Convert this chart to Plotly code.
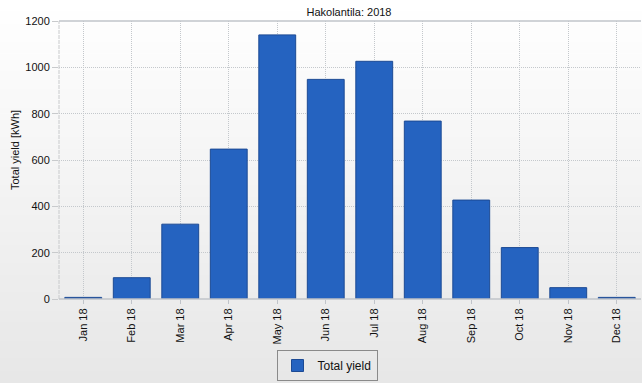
import plotly.graph_objects as go

months = ["Jan 18", "Feb 18", "Mar 18", "Apr 18", "May 18", "Jun 18",
          "Jul 18", "Aug 18", "Sep 18", "Oct 18", "Nov 18", "Dec 18"]
total_yield = [7, 92, 323, 647, 1140, 948, 1026, 768, 427, 222, 49, 7]
y_ticks = [0, 200, 400, 600, 800, 1000, 1200]
y_title = "Total yield [kWh]"

W, H = 642, 383
L, R, T, B = 59, 1, 21, 84
pw, ph = W - L - R, H - T - B

fig = go.Figure()
fig.add_trace(go.Bar(
    x=months, y=total_yield, name="Total yield",
    marker=dict(color="#2563c0", line=dict(color="#1c4a94", width=1)),
    width=0.76,
))

# background gradient strips (figure-wide)
shapes = []
n = 64
x0p, x1p = -L / pw, 1 + R / pw
for i in range(n):
    yt = (ph - (i * H / n - T)) / ph
    yb = (ph - ((i + 1) * H / n - T)) / ph
    f = i / (n - 1)
    c = int(round(255 - f * (255 - 231)))
    shapes.append(dict(type="rect", xref="paper", yref="paper",
                       x0=x0p, x1=x1p, y0=yb, y1=yt + 0.002,
                       fillcolor=f"rgb({c},{c},{c})", line=dict(width=0),
                       layer="below"))
# left axis line
shapes.append(dict(type="line", xref="paper", yref="paper", x0=0, x1=0, y0=0, y1=1,
                   line=dict(color="#c8cacc", width=1, dash="4px,1px"), layer="above"))
# top border
shapes.append(dict(type="line", xref="paper", yref="paper", x0=0, x1=1, y0=1, y1=1,
                   line=dict(color="#c0c4ca", width=1.5), layer="above"))
# bottom axis
shapes.append(dict(type="line", xref="paper", yref="paper", x0=0, x1=1, y0=0, y1=0,
                   line=dict(color="#c0c4ca", width=1.5), layer="above"))

font = "Liberation Sans, DejaVu Sans, sans-serif"
grid = "#c4c8cc"
fig.update_layout(
    width=W, height=H,
    margin=dict(l=L, r=R, t=T, b=B, autoexpand=False),
    paper_bgcolor="rgba(0,0,0,0)",
    plot_bgcolor="rgba(0,0,0,0)",
    shapes=shapes,
    title=dict(text="Hakolantila: 2018", x=(349 - L) / pw, xref="paper", xanchor="center",
               y=1 - 12 / H, yanchor="middle", font=dict(family=font, size=11, color="#111")),
    font=dict(family=font, size=11, color="#111"),
    showlegend=True,
    legend=dict(x=(327 - L) / pw, xanchor="center", y=(T + ph - 350) / ph, yanchor="top",
                bordercolor="#8a8a8a", borderwidth=1, bgcolor="rgba(0,0,0,0)",
                font=dict(family=font, size=12, color="#111")),
    annotations=[dict(text=y_title, textangle=-90, xref="paper", yref="paper",
                      x=(15 - L) / pw, y=(T + ph - 150) / ph, xanchor="center",
                      yanchor="middle", showarrow=False,
                      font=dict(family=font, size=11, color="#111"))],
    xaxis=dict(tickangle=-90, showgrid=True, gridcolor=grid, griddash="1px,1px", gridwidth=1,
               ticks="outside", ticklen=4, tickcolor="#c0c4ca", automargin=False,
               tickfont=dict(family=font, size=11, color="#111"),
               range=[-0.5, 11.5], fixedrange=True),
    yaxis=dict(range=[0, 1200], tickvals=y_ticks, showgrid=True, gridcolor=grid,
               griddash="1px,1px", gridwidth=1, ticks="outside", ticklen=6,
               tickcolor="#c8cacc", zeroline=False, automargin=False, fixedrange=True,
               tickfont=dict(family=font, size=11, color="#111")),
)

fig.write_html("out.html", config={"displayModeBar": False},
               post_script="document.body.style.margin='0';")
